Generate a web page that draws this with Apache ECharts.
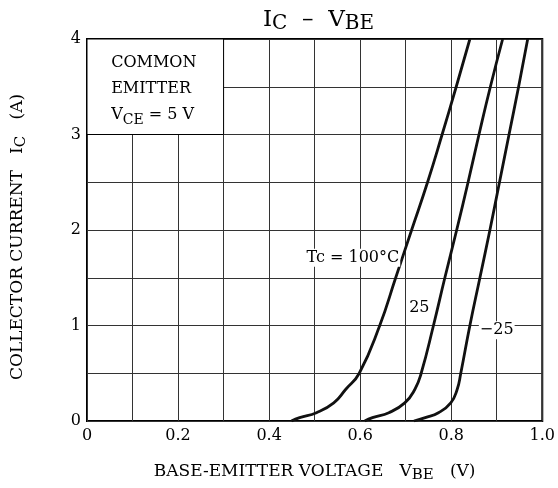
<!DOCTYPE html>
<html>
<head>
<meta charset="utf-8">
<script src="https://cdn.jsdelivr.net/npm/echarts@6/dist/echarts.min.js"></script>
<style>
  html, body { margin: 0; padding: 0; background: #fff; }
  #chart { width: 558px; height: 488px; }
</style>
</head>
<body>
<div id="chart"></div>
<script>
// IC - VBE, common emitter, VCE = 5 V
var vbe100 = [0.449, 0.467, 0.504, 0.542, 0.568, 0.598, 0.643, 0.678, 0.713, 0.748, 0.780, 0.811, 0.841];
var ic100  = [0, 0.035, 0.087, 0.19, 0.33, 0.5, 1.0, 1.5, 2.0, 2.5, 3.0, 3.5, 4.0];

var vbe25 = [0.610, 0.627, 0.663, 0.698, 0.720, 0.734, 0.761, 0.786, 0.812, 0.837, 0.861, 0.886, 0.913];
var ic25  = [0, 0.035, 0.087, 0.19, 0.33, 0.5, 1.0, 1.5, 2.0, 2.5, 3.0, 3.5, 4.0];

var vbeM25 = [0.718, 0.743, 0.772, 0.799, 0.813, 0.821, 0.841, 0.863, 0.885, 0.906, 0.927, 0.948, 0.968];
var icM25  = [0, 0.035, 0.087, 0.19, 0.33, 0.5, 1.0, 1.5, 2.0, 2.5, 3.0, 3.5, 4.0];

var curveNames = ['Tc = 100°C', '25', '\u221225'];
var labelAt = [[0.584, 1.71], [0.730, 1.19], [0.900, 0.95]];

var font = 'DejaVu Serif';

function pairs(xs, ys) {
  var out = [];
  for (var i = 0; i < xs.length; i++) out.push([xs[i], ys[i]]);
  return out;
}

function curve(idx, xs, ys) {
  return {
    name: curveNames[idx],
    type: 'line',
    data: pairs(xs, ys),
    smooth: 0.5,
    showSymbol: false,
    lineStyle: { color: '#111', width: 2.8 },
    markPoint: {
      silent: true,
      symbol: 'rect',
      symbolSize: 1,
      itemStyle: { color: 'rgba(0,0,0,0)' },
      label: {
        show: true,
        position: 'inside',
        formatter: '{b}',
        color: '#000',
        fontFamily: font,
        fontSize: 16,
        backgroundColor: '#fff',
        padding: [1, 1]
      },
      data: [{ name: curveNames[idx], coord: labelAt[idx] }]
    }
  };
}

var mychart = echarts.init(document.getElementById('chart'));
var option = {
  animation: false,
  title: {
    left: 258,
    top: 1,
    text: '{m|I}{s|C}{m|  \u2013  V}{s|BE}',
    textStyle: {
      rich: {
        m: { fontFamily: font, fontSize: 23, fontWeight: 'normal', color: '#000', lineHeight: 28, verticalAlign: 'middle' },
        s: { fontFamily: font, fontSize: 20, fontWeight: 'normal', color: '#000', lineHeight: 18, verticalAlign: 'bottom' }
      }
    }
  },
  grid: {
    left: 87, right: 11, top: 39, bottom: 66,
    show: true,
    borderColor: '#000',
    borderWidth: 2
  },
  xAxis: {
    type: 'value',
    min: 0, max: 1, interval: 0.1,
    axisLine: { show: false },
    axisTick: { show: false },
    splitLine: { lineStyle: { color: '#333', width: 1 } },
    axisLabel: {
      margin: 7,
      color: '#000',
      fontFamily: font,
      fontSize: 16,
      formatter: function (v) {
        var k = Math.round(v * 10);
        if (k % 2 !== 0) return '';
        return k === 0 ? '0' : (k / 10).toFixed(1);
      }
    },
    name: '{t|BASE-EMITTER VOLTAGE   V}{s|BE}{t|   (V)}',
    nameLocation: 'middle',
    nameGap: 40,
    nameTextStyle: {
      rich: {
        t: { fontFamily: font, fontSize: 17, color: '#000', lineHeight: 22, verticalAlign: 'middle' },
        s: { fontFamily: font, fontSize: 15, color: '#000', lineHeight: 14, verticalAlign: 'bottom' }
      }
    }
  },
  yAxis: {
    type: 'value',
    min: 0, max: 4, interval: 0.5,
    axisLine: { show: false },
    axisTick: { show: false },
    splitLine: { lineStyle: { color: '#333', width: 1 } },
    axisLabel: {
      margin: 6,
      color: '#000',
      fontFamily: font,
      fontSize: 16,
      formatter: function (v) {
        return Math.round(v * 2) % 2 === 0 ? String(Math.round(v)) : '';
      }
    },
    name: '{t|COLLECTOR CURRENT   I}{s|C}{t|   (A)}',
    nameLocation: 'middle',
    nameRotate: 90,
    nameGap: 58,
    nameTextStyle: {
      padding: [0, 14, 0, 0],
      rich: {
        t: { fontFamily: font, fontSize: 17, color: '#000', lineHeight: 22, verticalAlign: 'middle' },
        s: { fontFamily: font, fontSize: 15, color: '#000', lineHeight: 14, verticalAlign: 'bottom' }
      }
    }
  },
  series: [
    curve(0, vbe100, ic100),
    curve(1, vbe25, ic25),
    curve(2, vbeM25, icM25),
    {
      type: 'line',
      data: [],
      markArea: {
        silent: true,
        itemStyle: { color: '#fff', borderColor: '#000', borderWidth: 1 },
        data: [[{ coord: [0, 3] }, { coord: [0.3, 4] }]]
      },
      markPoint: {
        silent: true,
        symbol: 'rect',
        symbolSize: 1,
        itemStyle: { color: 'rgba(0,0,0,0)' },
        label: {
          show: true,
          position: 'right',
          distance: 0,
          formatter: '{t|COMMON}\n{t|EMITTER}\n{t|V}{s|CE}{t| = 5 V}',
          rich: {
            t: { fontFamily: font, fontSize: 16, color: '#000', lineHeight: 26, verticalAlign: 'middle' },
            s: { fontFamily: font, fontSize: 14, color: '#000', lineHeight: 16, verticalAlign: 'bottom' }
          }
        },
        data: [{ name: 'note', coord: [0.052, 3.48] }]
      }
    }
  ]
};
mychart.setOption(option);
</script>
</body>
</html>
